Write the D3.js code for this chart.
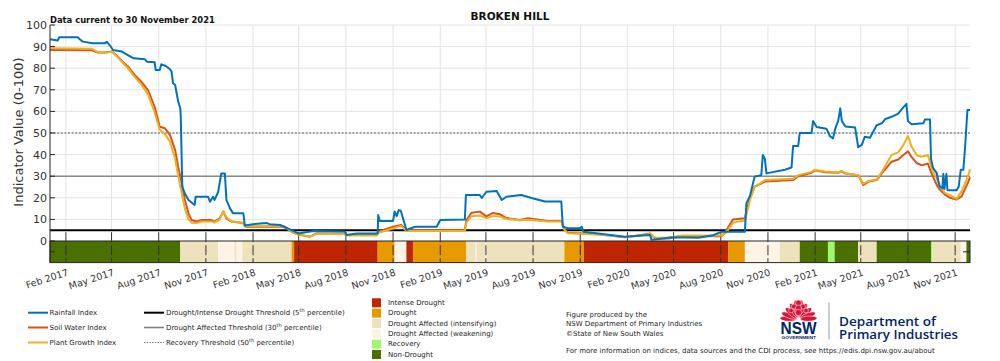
<!DOCTYPE html>
<html>
<head>
<meta charset="utf-8">
<script src="https://cdn.jsdelivr.net/npm/d3@7"></script>
<style>
  html, body { margin: 0; padding: 0; background: #fff; }
  svg { display: block; font-family: "DejaVu Sans", sans-serif; }
</style>
</head>
<body>
<svg id="chart" width="1000" height="361"></svg>
<script>
// ---------------- DATA ----------------
const chartTitle = "BROKEN HILL";
const currentText = "Data current to 30 November 2021";
const yTicks = [0, 10, 20, 30, 40, 50, 60, 70, 80, 90, 100];
const xTickDates = ["2017-02-01","2017-05-01","2017-08-01","2017-11-01","2018-02-01","2018-05-01","2018-08-01","2018-11-01",
  "2019-02-01","2019-05-01","2019-08-01","2019-11-01","2020-02-01","2020-05-01","2020-08-01","2020-11-01",
  "2021-02-01","2021-05-01","2021-08-01","2021-11-01"];
const thresholds = { intense: 5, affected: 30, recovery: 50 };

const rainfallIndex = [
  ["2017-01-01",93.4],["2017-01-16",92.8],["2017-01-19",94.3],["2017-02-24",94.3],["2017-02-28",93.4],
  ["2017-03-06",92.3],["2017-03-25",91.6],["2017-04-18",91.5],["2017-04-22",92.2],["2017-04-28",90.5],
  ["2017-05-04",88.4],["2017-05-21",87.7],["2017-05-27",86.9],["2017-06-13",84.6],["2017-07-05",84.1],
  ["2017-07-09",83.0],["2017-07-24",82.8],["2017-07-26",79.2],["2017-08-03",79.2],["2017-08-06",81.8],
  ["2017-08-15",81.0],["2017-08-23",79.5],["2017-08-26",78.4],["2017-08-29",73.0],["2017-09-02",72.2],
  ["2017-09-08",64.5],["2017-09-12",61.6],["2017-09-13",57.5],["2017-09-16",25.0],["2017-09-21",22.0],
  ["2017-09-28",19.0],["2017-10-10",16.7],["2017-10-12",20.5],["2017-11-05",20.5],["2017-11-09",18.2],
  ["2017-11-15",20.5],["2017-11-18",19.0],["2017-11-25",22.8],["2017-11-28",27.0],["2017-12-01",31.3],
  ["2017-12-08",31.3],["2017-12-11",19.0],["2017-12-18",15.1],["2017-12-24",12.8],["2018-01-13",12.8],
  ["2018-01-16",7.2],["2018-02-01",7.8],["2018-02-28",8.3],["2018-03-05",7.8],["2018-03-26",7.4],
  ["2018-04-17",5.0],["2018-04-30",3.5],["2018-05-30",4.6],["2018-07-30",4.4],["2018-08-02",2.8],
  ["2018-08-22",3.5],["2018-10-02",3.5],["2018-10-03",12.0],["2018-10-06",9.3],["2018-11-01",9.3],
  ["2018-11-04",13.6],["2018-11-08",11.5],["2018-11-12",14.3],["2018-11-16",14.0],["2018-11-21",10.0],
  ["2018-11-27",5.1],["2018-12-14",6.6],["2019-01-25",6.6],["2019-02-01",9.7],["2019-03-21",10.0],
  ["2019-03-23",21.3],["2019-04-19",21.3],["2019-04-23",19.9],["2019-05-02",22.8],["2019-05-22",23.2],
  ["2019-06-01",19.0],["2019-06-10",20.5],["2019-07-09",21.3],["2019-07-29",19.9],["2019-08-24",18.3],
  ["2019-09-25",18.3],["2019-09-28",6.6],["2019-10-08",5.9],["2019-10-31",5.9],["2019-11-04",6.6],
  ["2019-11-07",4.3],["2019-12-06",3.5],["2020-01-27",2.0],["2020-03-16",2.8],["2020-03-19",0.5],
  ["2020-04-28",1.7],["2020-06-18",1.5],["2020-07-15",2.5],["2020-08-03",4.3],["2020-09-17",4.3],
  ["2020-09-20",17.4],["2020-09-27",21.0],["2020-10-06",29.8],["2020-10-19",30.5],["2020-10-22",39.8],
  ["2020-10-26",38.0],["2020-10-29",31.3],["2020-12-04",33.0],["2020-12-17",34.0],["2020-12-20",44.0],
  ["2020-12-30",44.0],["2021-01-02",50.0],["2021-01-25",50.0],["2021-01-28",55.5],["2021-02-04",52.8],
  ["2021-02-23",52.0],["2021-03-02",48.5],["2021-03-08",47.5],["2021-03-12",51.9],["2021-03-18",55.6],
  ["2021-03-22",61.4],["2021-03-25",55.6],["2021-04-01",53.0],["2021-04-20",52.5],["2021-04-26",43.4],
  ["2021-05-03",44.5],["2021-05-09",48.3],["2021-05-19",47.8],["2021-06-01",53.6],["2021-06-11",54.5],
  ["2021-06-18",56.5],["2021-06-30",57.5],["2021-07-13",59.0],["2021-07-23",61.9],["2021-07-29",63.5],
  ["2021-08-01",55.5],["2021-08-08",54.0],["2021-08-31",54.5],["2021-09-03",56.2],["2021-09-13",56.2],
  ["2021-09-15",38.0],["2021-09-19",33.8],["2021-09-26",31.5],["2021-09-29",28.0],["2021-10-02",25.2],
  ["2021-10-07",24.5],["2021-10-09",31.0],["2021-10-11",24.0],["2021-10-15",31.0],["2021-10-17",23.5],
  ["2021-11-04",23.5],["2021-11-08",25.2],["2021-11-12",33.0],["2021-11-17",33.0],["2021-11-20",42.0],
  ["2021-11-25",60.6],["2021-11-30",60.6]
];

const soilWaterIndex = [
  ["2017-01-01",88.4],["2017-03-24",88.3],["2017-04-03",87.3],["2017-04-19",87.3],["2017-05-02",87.7],
  ["2017-05-13",85.3],["2017-06-02",80.7],["2017-06-15",76.9],["2017-06-28",73.8],["2017-07-11",69.9],
  ["2017-07-24",62.2],["2017-08-03",52.9],["2017-08-13",52.2],["2017-08-23",49.1],["2017-09-02",42.1],
  ["2017-09-08",34.4],["2017-09-15",26.7],["2017-09-21",19.0],["2017-09-28",12.8],["2017-10-04",9.7],
  ["2017-10-14",9.0],["2017-10-24",9.7],["2017-11-12",9.7],["2017-11-18",9.0],["2017-11-28",10.5],
  ["2017-12-05",13.6],["2017-12-11",10.5],["2017-12-21",9.0],["2018-01-12",8.3],["2018-01-18",6.6],
  ["2018-04-01",6.6],["2018-04-17",4.3],["2018-04-30",3.0],["2018-05-23",2.0],["2018-06-05",3.5],
  ["2018-07-26",3.5],["2018-08-02",2.8],["2018-09-30",2.8],["2018-10-03",4.3],["2018-11-01",6.6],
  ["2018-11-17",7.4],["2018-11-27",5.1],["2019-03-21",5.1],["2019-03-24",9.7],["2019-04-03",13.1],
  ["2019-04-19",13.6],["2019-05-02",11.4],["2019-05-15",13.0],["2019-05-28",12.4],["2019-06-10",10.6],
  ["2019-07-06",9.7],["2019-07-22",10.5],["2019-08-30",9.3],["2019-09-25",9.3],["2019-10-02",5.1],
  ["2019-10-08",3.8],["2019-11-04",3.5],["2019-12-06",3.1],["2020-01-27",1.7],["2020-02-28",2.8],
  ["2020-03-16",3.5],["2020-03-26",1.2],["2020-04-21",1.2],["2020-05-17",2.2],["2020-08-03",2.2],
  ["2020-08-12",5.0],["2020-08-25",10.0],["2020-09-17",10.5],["2020-09-24",17.4],["2020-09-27",20.0],
  ["2020-10-06",25.2],["2020-10-26",27.5],["2020-12-20",28.2],["2020-12-30",30.0],["2021-01-25",31.6],
  ["2021-02-01",32.7],["2021-02-20",31.8],["2021-03-18",31.6],["2021-03-24",32.2],["2021-04-01",31.2],
  ["2021-04-26",30.5],["2021-05-06",25.9],["2021-05-16",27.5],["2021-06-01",28.2],["2021-06-11",31.3],
  ["2021-06-30",36.7],["2021-07-13",37.7],["2021-07-23",39.8],["2021-08-01",41.5],["2021-08-08",38.9],
  ["2021-08-18",36.1],["2021-08-27",35.1],["2021-09-09",35.8],["2021-09-16",31.3],["2021-09-26",26.0],
  ["2021-10-02",23.8],["2021-10-12",21.5],["2021-10-22",20.0],["2021-11-04",19.2],["2021-11-14",20.8],
  ["2021-11-20",24.0],["2021-11-26",27.0],["2021-11-30",29.5]
];

const plantGrowthIndex = [
  ["2017-01-01",89.2],["2017-03-24",89.0],["2017-04-03",87.6],["2017-04-19",87.0],["2017-05-02",87.7],
  ["2017-05-13",85.0],["2017-06-02",80.0],["2017-06-15",76.0],["2017-06-28",72.5],["2017-07-11",68.0],
  ["2017-07-24",59.5],["2017-08-03",51.5],["2017-08-13",49.5],["2017-08-23",46.0],["2017-09-02",38.0],
  ["2017-09-08",30.0],["2017-09-15",22.0],["2017-09-21",15.0],["2017-09-28",10.0],["2017-10-04",8.5],
  ["2017-10-14",8.3],["2017-10-24",9.0],["2017-11-12",9.0],["2017-11-18",8.5],["2017-11-28",10.0],
  ["2017-12-05",13.8],["2017-12-11",11.0],["2017-12-21",9.0],["2018-01-12",8.5],["2018-01-18",7.0],
  ["2018-04-01",7.0],["2018-04-17",4.5],["2018-04-30",3.0],["2018-05-23",2.0],["2018-06-05",3.3],
  ["2018-07-26",3.3],["2018-08-02",2.6],["2018-09-30",2.6],["2018-10-03",3.8],["2018-11-01",5.8],
  ["2018-11-17",7.0],["2018-11-27",4.6],["2019-03-21",4.6],["2019-03-24",8.5],["2019-04-03",11.5],
  ["2019-04-19",11.8],["2019-05-02",10.6],["2019-05-15",11.6],["2019-05-28",11.3],["2019-06-10",10.2],
  ["2019-07-06",9.6],["2019-07-22",9.8],["2019-08-30",9.0],["2019-09-25",9.0],["2019-10-02",4.8],
  ["2019-10-08",3.6],["2019-11-04",3.3],["2019-12-06",3.0],["2020-01-27",1.8],["2020-02-28",2.6],
  ["2020-03-16",3.2],["2020-03-26",1.5],["2020-04-21",1.5],["2020-05-17",2.5],["2020-08-03",2.5],
  ["2020-08-12",4.0],["2020-08-25",8.5],["2020-09-17",9.5],["2020-09-24",16.0],["2020-09-27",19.0],
  ["2020-10-06",25.0],["2020-10-26",28.2],["2020-12-20",28.8],["2020-12-30",30.5],["2021-01-25",32.0],
  ["2021-02-01",33.0],["2021-02-20",32.2],["2021-03-18",31.8],["2021-03-24",32.5],["2021-04-01",31.4],
  ["2021-04-26",30.5],["2021-05-06",26.5],["2021-05-16",27.8],["2021-06-01",28.5],["2021-06-11",32.0],
  ["2021-06-30",39.8],["2021-07-13",41.0],["2021-07-23",44.4],["2021-08-01",48.6],["2021-08-08",43.7],
  ["2021-08-18",39.8],["2021-08-27",39.0],["2021-09-09",39.8],["2021-09-16",33.6],["2021-09-26",29.0],
  ["2021-10-02",25.2],["2021-10-12",22.3],["2021-10-22",21.2],["2021-11-04",19.5],["2021-11-14",23.2],
  ["2021-11-20",26.5],["2021-11-26",30.0],["2021-11-30",33.2]
];

// Drought category periods (start date, category); last period ends at dataEnd
const dataStart = "2017-01-01";
const dataEnd = "2021-11-30";
const bandStarts = ["2017-01-01","2017-09-12","2017-11-25","2017-12-27","2017-12-31","2018-01-11","2018-04-17","2018-04-22",
  "2018-10-02","2018-11-04","2018-11-27","2018-12-10","2019-03-24","2019-04-11","2019-04-13","2019-04-30","2019-05-02",
  "2019-10-01","2019-10-31","2019-11-02","2019-11-08","2020-08-16","2020-09-17","2020-11-24","2021-01-02","2021-02-26",
  "2021-03-11","2021-04-26","2021-06-01","2021-09-15","2021-09-18","2021-11-12","2021-11-23"];
const bandCategories = ["N","I","W","I","W","I","D","X","D","W","X","D","I","W","I","W","I",
  "D","X","D","X","D","W","I","N","R","N","I","N","R","I","W","N"];
const categoryKeys = ["X","D","I","W","R","N"];
const categoryLabels = ["Intense Drought","Drought","Drought Affected (intensifying)","Drought Affected (weakening)","Recovery","Non-Drought"];
const categoryColors = ["#BE2600","#E79A00","#EEE2BD","#FDF4E6","#9CFA6A","#4A7002"];

const seriesNames = ["Rainfall Index","Soil Water Index","Plant Growth Index"];
const seriesColors = ["#0072BD","#D95319","#EDB120"];

// ---------------- DRAWING ----------------
const parse = d3.timeParse("%Y-%m-%d");
const svg = d3.select("#chart");
const plotL = 50, plotR = 970;

const x = d3.scaleTime().domain([parse(dataStart), parse(dataEnd)]).range([plotL, plotR]);
const y = d3.scaleLinear().domain([-10, 100]).range([262.6, 25]);

const axisColor = "#262626";
const gridColor = "#e4e4e4";

// gridlines
const xt = xTickDates.map(parse);
svg.append("g").selectAll("line").data(yTicks.filter(v => v > 0)).join("line")
  .attr("x1", plotL).attr("x2", plotR).attr("y1", d => y(d)).attr("y2", d => y(d))
  .attr("stroke", gridColor).attr("stroke-width", 1);
svg.append("g").selectAll("line").data(xt).join("line")
  .attr("x1", d => x(d)).attr("x2", d => x(d)).attr("y1", y(100)).attr("y2", y(thresholds.intense))
  .attr("stroke", gridColor).attr("stroke-width", 1);

// category band
const bandColor = k => categoryColors[categoryKeys.indexOf(k)];
const bands = bandStarts.map((s, i) => ({
  start: parse(s), end: parse(i + 1 < bandStarts.length ? bandStarts[i + 1] : dataEnd), cat: bandCategories[i]
}));
svg.append("g").selectAll("rect").data(bands).join("rect")
  .attr("x", d => x(d.start)).attr("width", d => Math.max(0.5, x(d.end) - x(d.start)))
  .attr("y", y(0)).attr("height", y(-10) - y(0))
  .attr("fill", d => bandColor(d.cat));
svg.append("rect").attr("x", plotL).attr("y", y(0)).attr("width", plotR - plotL).attr("height", y(-10) - y(0))
  .attr("fill", "none").attr("stroke", axisColor).attr("stroke-width", 1);

// dashed tick lines through band
svg.append("g").selectAll("line").data(xt).join("line")
  .attr("x1", d => x(d)).attr("x2", d => x(d)).attr("y1", y(thresholds.intense) + 2).attr("y2", y(-10))
  .attr("stroke", "#333").attr("stroke-width", 1).attr("stroke-dasharray", "10,3");

// threshold lines
svg.append("line").attr("x1", plotL).attr("x2", plotR).attr("y1", y(thresholds.affected)).attr("y2", y(thresholds.affected))
  .attr("stroke", "#8a8a8a").attr("stroke-width", 1.6);
svg.append("line").attr("x1", plotL).attr("x2", plotR).attr("y1", y(thresholds.recovery)).attr("y2", y(thresholds.recovery))
  .attr("stroke", "#8a8a8a").attr("stroke-width", 1.6).attr("stroke-dasharray", "2,1.6");
svg.append("line").attr("x1", plotL).attr("x2", plotR).attr("y1", y(thresholds.intense)).attr("y2", y(thresholds.intense))
  .attr("stroke", "#000").attr("stroke-width", 2);

// series lines
const line = d3.line().x(d => x(parse(d[0]))).y(d => y(d[1]));
[[soilWaterIndex, 1], [plantGrowthIndex, 2], [rainfallIndex, 0]].forEach(([data, ci]) => {
  svg.append("path").datum(data).attr("d", line).attr("fill", "none")
    .attr("stroke", seriesColors[ci]).attr("stroke-width", 2).attr("stroke-linejoin", "round");
});

// y axis
svg.append("line").attr("x1", plotL).attr("x2", plotL).attr("y1", y(100)).attr("y2", y(-10))
  .attr("stroke", axisColor).attr("stroke-width", 1);
svg.append("g").selectAll("line").data(yTicks.concat([-5])).join("line")
  .attr("x1", plotL).attr("x2", plotL + 5).attr("y1", d => y(d)).attr("y2", d => y(d))
  .attr("stroke", axisColor);
svg.append("g").selectAll("line").data([-5]).join("line")
  .attr("x1", plotR - 7).attr("x2", plotR).attr("y1", d => y(d)).attr("y2", d => y(d))
  .attr("stroke", axisColor);
svg.append("g").selectAll("text").data(yTicks).join("text")
  .attr("x", plotL - 3).attr("y", d => y(d)).attr("dy", "0.36em")
  .attr("text-anchor", "end").attr("font-size", 11).attr("fill", "#333").text(d => d);

// x tick labels
const fmt = d3.timeFormat("%b %Y");
svg.append("g").selectAll("text").data(xt).join("text")
  .attr("transform", d => `translate(${x(d) + 1},${268.5}) rotate(-18)`)
  .attr("dy", "0.72em").attr("text-anchor", "end")
  .attr("font-size", 9.5).attr("fill", "#333").text(d => fmt(d));

// y label
svg.append("text").attr("transform", "translate(22.5,132) rotate(-90)")
  .attr("text-anchor", "middle").attr("font-size", 13).attr("fill", "#333")
  .text("Indicator Value (0-100)");

// titles
svg.append("text").attr("x", 510).attr("y", 19.5).attr("text-anchor", "middle")
  .attr("font-size", 10.5).attr("font-weight", "bold").attr("fill", "#111").text(chartTitle);
svg.append("text").attr("x", 50).attr("y", 22.5)
  .attr("font-size", 8.4).attr("font-weight", "bold").attr("fill", "#111").text(currentText);

// ---------------- LEGEND ----------------
const lg = svg.append("g").attr("font-size", 7).attr("fill", "#262626");
const legYs = [312.7, 327.5, 342.5];
seriesNames.forEach((n, i) => {
  lg.append("line").attr("x1", 28).attr("x2", 48).attr("y1", legYs[i]).attr("y2", legYs[i])
    .attr("stroke", seriesColors[i]).attr("stroke-width", 2);
  lg.append("text").attr("x", 49.5).attr("y", legYs[i] + 2.5).text(n);
});
const thrLegend = [
  { pre: "Drought/Intense Drought Threshold (5", post: " percentile)", color: "#000", w: 2, dash: null },
  { pre: "Drought Affected Threshold (30", post: " percentile)", color: "#808080", w: 1.6, dash: null },
  { pre: "Recovery Threshold (50", post: " percentile)", color: "#808080", w: 1.2, dash: "1.5,1.2" }
];
thrLegend.forEach((t, i) => {
  const l = lg.append("line").attr("x1", 144).attr("x2", 164).attr("y1", legYs[i]).attr("y2", legYs[i])
    .attr("stroke", t.color).attr("stroke-width", t.w);
  if (t.dash) l.attr("stroke-dasharray", t.dash);
  const tx = lg.append("text").attr("x", 166).attr("y", legYs[i] + 2.5);
  tx.append("tspan").text(t.pre);
  tx.append("tspan").attr("font-size", 5).attr("dy", -3).text("th");
  tx.append("tspan").attr("dy", 3).text(t.post);
});
categoryLabels.forEach((n, i) => {
  const yy = 298.3 + i * 10.35;
  lg.append("rect").attr("x", 372).attr("y", yy).attr("width", 9).attr("height", 9).attr("fill", categoryColors[i]);
  lg.append("text").attr("x", 388).attr("y", yy + 6.5).text(n);
});

// credits
const cr = svg.append("g").attr("font-size", 7).attr("fill", "#262626");
cr.append("text").attr("x", 566).attr("y", 317).text("Figure produced by the");
cr.append("text").attr("x", 566).attr("y", 326.3).text("NSW Department of Primary Industries");
cr.append("text").attr("x", 566).attr("y", 335.6).text("\u00A9State of New South Wales");
cr.append("text").attr("x", 566).attr("y", 353).text("For more information on indices, data sources and the CDI process, see https://edis.dpi.nsw.gov.au/about");

// NSW logo (waratah)
const logo = svg.append("g");
const base = [798.5, 319];
const petals = [[-178, 18.5], [-160, 18], [-140, 17], [-118, 17.5], [-100, 19], [-80, 19], [-62, 17.5], [-40, 17], [-20, 18], [-2, 18.5]];
petals.forEach(([a, L]) => {
  const r = a * Math.PI / 180;
  const cx = base[0] + Math.cos(r) * L * 0.55, cy = base[1] + Math.sin(r) * L * 0.55;
  logo.append("ellipse").attr("cx", cx).attr("cy", cy).attr("rx", L * 0.45).attr("ry", 2.6)
    .attr("transform", `rotate(${a},${cx},${cy})`)
    .attr("fill", "#D7153A").attr("stroke", "#fff").attr("stroke-width", 0.5);
});
[[798.5, 303, 3], [794, 306.5, 2.6], [803, 306.5, 2.6], [798.5, 308, 3], [791, 310.5, 2.4], [806, 310.5, 2.4], [798.5, 312.5, 3.2]]
  .forEach(([cx, cy, r]) => logo.append("circle").attr("cx", cx).attr("cy", cy).attr("r", r)
    .attr("fill", "#D7153A").attr("stroke", "#fff").attr("stroke-width", 0.5));
logo.append("text").attr("x", 780.5).attr("y", 333.5).attr("font-family", "Liberation Sans, Arial, sans-serif")
  .attr("font-weight", "bold").attr("font-size", 17).attr("fill", "#002664")
  .attr("textLength", 36).attr("lengthAdjust", "spacingAndGlyphs").text("NSW");
logo.append("text").attr("x", 781.5).attr("y", 339).attr("font-family", "Liberation Sans, Arial, sans-serif")
  .attr("font-weight", "bold").attr("font-size", 3.2).attr("fill", "#002664")
  .attr("textLength", 34.5).attr("lengthAdjust", "spacingAndGlyphs").text("GOVERNMENT");
logo.append("line").attr("x1", 829).attr("x2", 829).attr("y1", 302.5).attr("y2", 339.5)
  .attr("stroke", "#9fb0c9").attr("stroke-width", 1.2);
logo.append("text").attr("x", 839).attr("y", 325.5).attr("font-family", "Open Sans, sans-serif")
  .attr("font-weight", 600).attr("font-size", 13).attr("fill", "#002664")
  .attr("textLength", 97).attr("lengthAdjust", "spacingAndGlyphs").text("Department of");
logo.append("text").attr("x", 839).attr("y", 339.3).attr("font-family", "Open Sans, sans-serif")
  .attr("font-weight", 600).attr("font-size", 13).attr("fill", "#002664")
  .attr("textLength", 119).attr("lengthAdjust", "spacingAndGlyphs").text("Primary Industries");
</script>
</body>
</html>
